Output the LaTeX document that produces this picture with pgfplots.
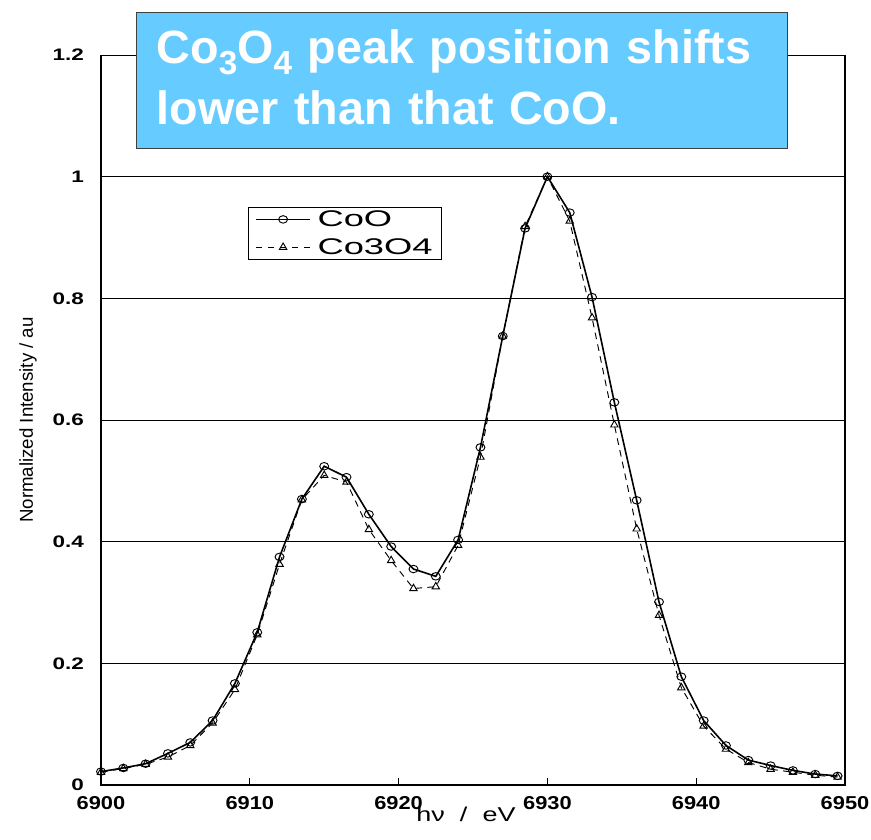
\documentclass[border=0pt]{standalone}
\usepackage{pgfplots}
\pgfplotsset{compat=1.18}
\usepackage{fontspec}
\setmainfont{Liberation Sans}
\definecolor{boxblue}{RGB}{102,204,255}
\begin{document}
\begin{tikzpicture}
\begin{axis}[
  name=ax,
  scale only axis,
  width=558pt, height=547.5pt,
  xmin=6900, xmax=6950, ymin=0, ymax=1.2,
  xtick={6900,6910,6920,6930,6940,6950},
  xticklabels={6900,6910,6920,6930,6940,6950},
  ytick={0,0.2,0.4,0.6,0.8,1,1.2},
  yticklabels={0,0.2,0.4,0.6,0.8,1,1.2},
  /pgf/number format/assume math mode=true,
  x tick label style={font=\bfseries\fontsize{14}{16}\selectfont, xscale=1.17, yshift=-5pt},
  y tick label style={font=\bfseries\fontsize{12.5}{15}\selectfont, xscale=1.35, xshift=-6pt},
  ymajorgrids,
  grid style={black, line width=0.7pt},
  tick align=inside,
  major tick length=5pt,
  tick style={black, line width=0.7pt},
  axis line style={black, line width=0.7pt},
  clip=false,
  xlabel={\scalebox{1.35}[1]{hν\ \ /\ \ eV}},
  xlabel style={font=\fontsize{15}{16}\selectfont, at={(rel axis cs:0.4906,-0.0505)}, anchor=base, inner sep=0pt},
  ylabel={Normalized Intensity / au},
  ylabel style={font=\fontsize{14}{16}\selectfont, at={(rel axis cs:-0.098,0.5)}, anchor=center},
  legend style={at={(rel axis cs:0.198,0.792)}, anchor=north west, draw=black, line width=0.5pt,
    font=\fontsize{17}{21}\selectfont, inner xsep=5pt, inner ysep=0.5pt, row sep=3.5pt, cells={anchor=west}},
  legend image code/.code={\draw[#1, line width=0.7pt] (0pt,0pt) -- (41pt,0pt); \draw[#1, solid, line width=0.7pt, mark repeat=1] plot coordinates {(20.5pt,0pt)};},
]
\addplot[black, line width=1.2pt, mark=o, mark size=2.8pt, mark options={solid, xscale=1.2, line width=0.7pt}]
table {
6900 0.022
6901.5 0.028
6903 0.035
6904.5 0.052
6906 0.070
6907.5 0.106
6909 0.167
6910.5 0.251
6912 0.375
6913.5 0.470
6915 0.524
6916.5 0.506
6918 0.445
6919.5 0.392
6921 0.355
6922.5 0.343
6924 0.403
6925.5 0.555
6927 0.738
6928.5 0.915
6930 1.000
6931.5 0.941
6933 0.802
6934.5 0.629
6936 0.468
6937.5 0.301
6939 0.178
6940.5 0.106
6942 0.065
6943.5 0.041
6945 0.032
6946.5 0.024
6948 0.018
6949.5 0.015
};
\addlegendentry{\hspace{3pt}\scalebox{1.6}[1]{CoO}}
\addplot[black, line width=0.7pt, dash pattern=on 5pt off 4pt, mark=triangle, mark size=3.2pt, mark options={solid, line width=0.7pt}]
table {
6900 0.021
6901.5 0.027
6903 0.034
6904.5 0.046
6906 0.065
6907.5 0.102
6909 0.157
6910.5 0.247
6912 0.363
6913.5 0.469
6915 0.509
6916.5 0.498
6918 0.420
6919.5 0.369
6921 0.323
6922.5 0.326
6924 0.394
6925.5 0.539
6927 0.738
6928.5 0.918
6930 1.000
6931.5 0.927
6933 0.768
6934.5 0.592
6936 0.421
6937.5 0.279
6939 0.160
6940.5 0.097
6942 0.059
6943.5 0.037
6945 0.026
6946.5 0.021
6948 0.016
6949.5 0.013
};
\addlegendentry{\hspace{3pt}\scalebox{1.6}[1]{Co3O4}}
\draw[black, line width=2.2pt] (rel axis cs:0,1) -- (rel axis cs:0,0) -- (rel axis cs:1,0) -- (rel axis cs:1,1);
\node[fill=boxblue, draw=black!75, line width=1pt, text=white, font=\bfseries\fontsize{35}{43.5}\selectfont,
  text width=458pt, minimum height=102pt, inner xsep=15pt, inner ysep=4pt, align=left, anchor=north west]
  at (rel axis cs:0.047,1.059)
  {Co\raisebox{-0.22em}{\fontsize{25}{25}\selectfont 3}O\raisebox{-0.22em}{\fontsize{25}{25}\selectfont 4} peak position shifts\\[2pt]lower than that CoO.\rule[-5pt]{0pt}{5pt}};
\end{axis}
\pgfresetboundingbox
\path ([xshift=-75.75pt,yshift=-40.5pt]ax.south west) rectangle ([xshift=19.5pt,yshift=41.25pt]ax.north east);
\end{tikzpicture}
\end{document}
